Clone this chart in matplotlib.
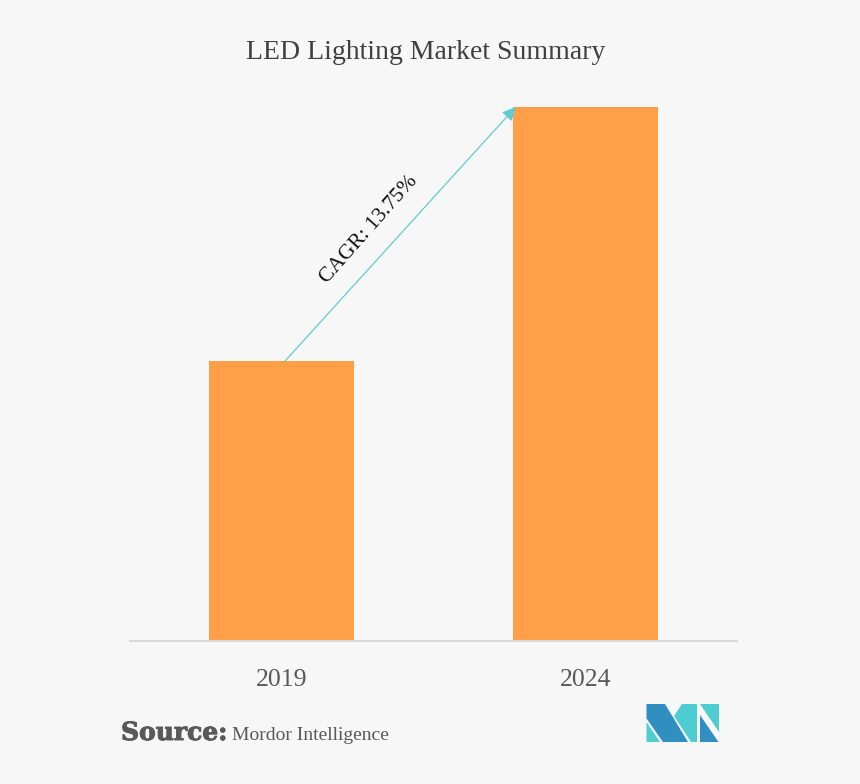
import matplotlib.pyplot as plt
import matplotlib.patheffects as pe
from matplotlib.patches import Polygon

plt.rcParams['font.family'] = ['Liberation Serif', 'DejaVu Serif']

W, H = 860, 784
BG = "#f7f7f7"

years = ["2019", "2024"]
values = [52.4, 100]

fig = plt.figure(figsize=(W / 100, H / 100), dpi=100, facecolor=BG)

# axes box taken from the baseline and the top of the tall bar
ax = fig.add_axes([129 / W, 1 - 641 / H, (738 - 129) / W, (641 - 107) / H], facecolor=BG)
ax.bar(years, values, width=0.477, color="#ffa048", zorder=2)
ax.set_xlim(-0.5, 1.5)
ax.set_ylim(0, 100)
ax.set_yticks([])
for s in ["top", "left", "right"]:
    ax.spines[s].set_visible(False)
ax.spines["bottom"].set_color("#d9d9d9")
ax.spines["bottom"].set_linewidth(1.5)
ax.spines["bottom"].set_capstyle("butt")
ax.tick_params(axis="x", length=0, pad=20)
for lab in ax.get_xticklabels():
    lab.set_fontsize(18.5)
    lab.set_color("#595959")

# CAGR arrow
ax.annotate("", xy=(0.77, 100), xytext=(0.012, values[0]),
            arrowprops=dict(arrowstyle="-|>", color="#5fccd2", lw=0.9, mutation_scale=20,
                            shrinkA=0, shrinkB=0), zorder=3)

# everything below sits in pixel coordinates of the picture
over = fig.add_axes([0, 0, 1, 1], facecolor="none")
over.set_xlim(0, W)
over.set_ylim(H, 0)
over.axis("off")

over.text(425.5, 52, "LED Lighting Market Summary", fontsize=20, color="#404040",
          ha="center", va="center")
over.text(369.5, 230, "CAGR: 13.75%", fontsize=15.5, color="#111111", rotation=48.5,
          ha="center", va="center", rotation_mode="anchor")
source = over.text(121, 740, "Source:", fontsize=18, fontweight="bold", family="DejaVu Serif",
                   color="#595959", ha="left", va="baseline")
source.set_path_effects([pe.withStroke(linewidth=0.7, foreground="#595959")])
over.text(232, 740, "Mordor Intelligence", fontsize=14, color="#595959",
          ha="left", va="baseline")

# logo
teal = "#4dcdd2"
blue = "#2e8fc0"
logo = [
    ([(646.5, 704), (665, 704), (688, 742), (663, 742), (646.5, 718.5)], blue),
    ([(646.5, 722), (660, 742), (646.5, 742)], teal),
    ([(682, 704), (697, 704), (697, 742), (691, 742), (674, 716)], teal),
    ([(700, 704), (718.5, 704), (718.5, 732)], teal),
    ([(700, 715), (718.5, 742), (700, 742)], blue),
]
for pts, col in logo:
    over.add_patch(Polygon(pts, closed=True, facecolor=col, edgecolor="none"))

fig.savefig("out.png", dpi=100, facecolor=BG)
plt.close(fig)
